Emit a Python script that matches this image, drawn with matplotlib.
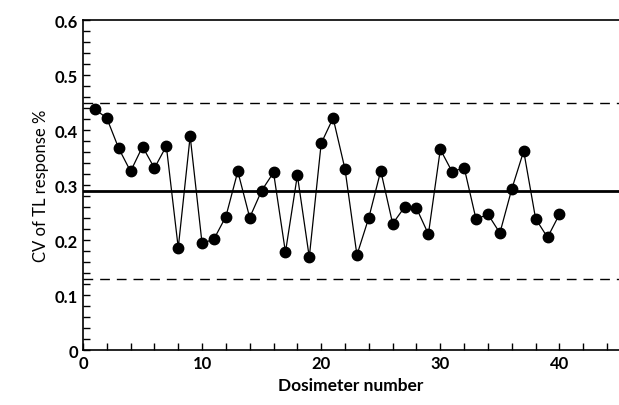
import numpy as np
import matplotlib.pyplot as plt
from matplotlib.ticker import MultipleLocator, FixedLocator, FuncFormatter

plt.rcParams['font.family'] = ['Lato', 'DejaVu Sans']

# dosimeter number vs CV of TL response
dosimeter = np.arange(1, 41)
cv = [0.438, 0.422, 0.367, 0.325, 0.370, 0.331, 0.371, 0.186, 0.389, 0.194,
      0.202, 0.243, 0.325, 0.241, 0.290, 0.323, 0.178, 0.318, 0.169, 0.376,
      0.422, 0.329, 0.173, 0.241, 0.326, 0.230, 0.260, 0.258, 0.211, 0.365,
      0.324, 0.332, 0.238, 0.247, 0.213, 0.293, 0.362, 0.239, 0.205, 0.247]

mean_cv = 0.289
upper_lim = 0.449
lower_lim = 0.129

fig = plt.figure(figsize=(6.19, 4.06), dpi=100)
ax = fig.add_axes([0.134, 0.135, 0.866, 0.813])

ax.axhline(mean_cv, color='black', lw=2.0, zorder=1)
ax.axhline(upper_lim, color='black', lw=1.0, dashes=(7, 5), zorder=1)
ax.axhline(lower_lim, color='black', lw=1.0, dashes=(7, 5), zorder=1)
ax.plot(dosimeter, cv, '-o', color='black', lw=0.9, markersize=7.5, zorder=2)

ax.set_xlim(0, 45)
ax.set_ylim(0, 0.6)
ax.xaxis.set_major_locator(FixedLocator([0, 10, 20, 30, 40]))
ax.xaxis.set_minor_locator(MultipleLocator(2))
ax.yaxis.set_major_locator(MultipleLocator(0.1))
ax.yaxis.set_minor_locator(MultipleLocator(0.02))
ax.yaxis.set_major_formatter(FuncFormatter(lambda v, p: '0' if abs(v) < 1e-9 else '%.1f' % v))
ax.tick_params(which='both', direction='in', length=5, width=1)
ax.tick_params(labelsize=12)
for lab in ax.get_xticklabels() + ax.get_yticklabels():
    lab.set_fontweight('bold')
ax.spines['right'].set_visible(False)
for s in ['left', 'bottom', 'top']:
    ax.spines[s].set_linewidth(1.2)

ax.set_xlabel('Dosimeter number', fontsize=12.5, fontweight='bold')
ax.set_ylabel('CV of TL response %', fontsize=12)

fig.savefig('out.png', dpi=100)
